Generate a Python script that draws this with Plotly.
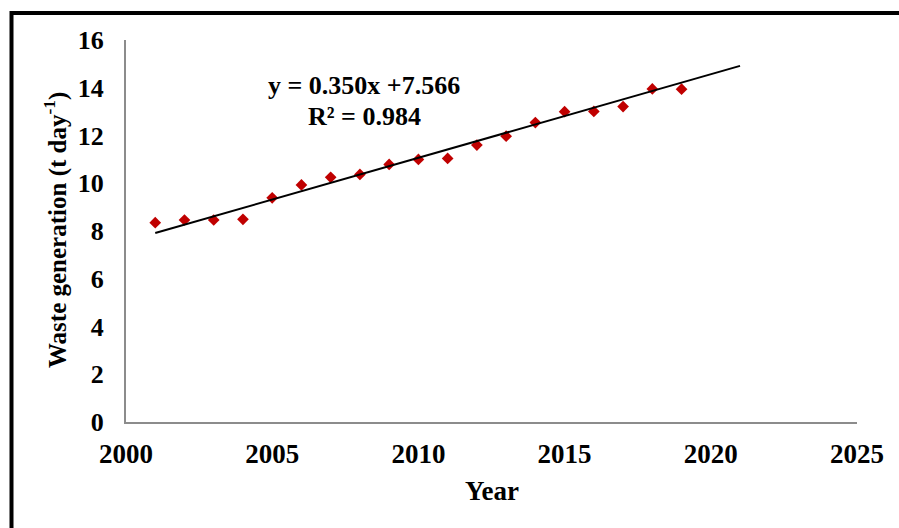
import plotly.graph_objects as go

# Annual waste generation (t/day)
years = [2001, 2002, 2003, 2004, 2005, 2006, 2007, 2008, 2009, 2010,
         2011, 2012, 2013, 2014, 2015, 2016, 2017, 2018, 2019]
waste = [8.35, 8.46, 8.46, 8.49, 9.39, 9.93, 10.25, 10.37, 10.79, 11.00,
         11.04, 11.60, 11.97, 12.54, 13.00, 13.01, 13.21, 13.95, 13.94]

# Linear trend (x = year index starting at 1 for 2001)
slope = 0.350
intercept = 7.566
r_squared = 0.984
trend_years = [2001, 2021]
trend_vals = [slope * (y - 2000) + intercept for y in trend_years]

x_ticks = [2000, 2005, 2010, 2015, 2020, 2025]
y_ticks = [0, 2, 4, 6, 8, 10, 12, 14, 16]

FONT = "Liberation Serif"

fig = go.Figure()
fig.add_trace(go.Scatter(
    x=years, y=waste, mode="markers",
    marker=dict(symbol="diamond", size=9, color="#C00000"),
    showlegend=False, cliponaxis=False,
))
fig.add_trace(go.Scatter(
    x=trend_years, y=trend_vals, mode="lines",
    line=dict(color="black", width=2),
    showlegend=False,
))

W, H = 899, 528
L, R, T, B = 126, 42, 40, 106
pw, ph = W - L - R, H - T - B


def px(x):
    return (x - L) / pw


def py(y):
    return (H - B - y) / ph


def label(text, x, y, size, angle=0):
    return dict(text=text, textangle=angle, xref="paper", yref="paper",
                x=px(x), y=py(y), xanchor="center", yanchor="middle",
                showarrow=False, font=dict(family=FONT, size=size))


fig.update_layout(
    width=W, height=H,
    margin=dict(l=L, r=R, t=T, b=B),
    paper_bgcolor="white", plot_bgcolor="white",
    font=dict(family=FONT, color="black"),
    xaxis=dict(
        range=[2000, 2025], tickvals=x_ticks, showgrid=False, zeroline=False,
        showline=True, linecolor="#8c8c8c", linewidth=2, ticks="",
        tickfont=dict(family=FONT, size=27, weight="bold"),
        ticklabelstandoff=7,
    ),
    yaxis=dict(
        range=[0, 16], tickvals=y_ticks, showgrid=False, zeroline=False,
        showline=True, linecolor="#8c8c8c", linewidth=2, ticks="",
        tickfont=dict(family=FONT, size=26, weight="bold"),
        ticklabelstandoff=15,
    ),
    shapes=[dict(
        type="rect", xref="paper", yref="paper",
        x0=px(11.5), x1=px(910), y0=py(540), y1=py(13),
        line=dict(color="black", width=4), fillcolor="rgba(0,0,0,0)",
        layer="above",
    )],
    annotations=[
        label("<b>Waste generation (t day<sup>-1</sup>)</b>", 55, 230, 25, -90),
        label("<b>Year</b>", 492, 491, 27),
        label(f"<b>y = {slope:.3f}x +{intercept:.3f}</b>", 364, 85, 26),
        label(f"<b>R² = {r_squared:.3f}</b>", 364, 116, 26),
    ],
)

fig.write_html("out.html")
